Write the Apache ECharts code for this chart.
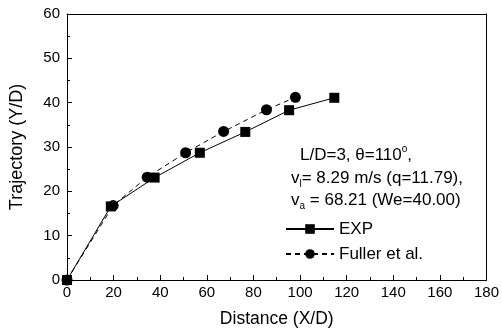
<!DOCTYPE html>
<html><head><meta charset="utf-8">
<script src="https://cdn.jsdelivr.net/npm/echarts@6/dist/echarts.min.js"></script>
<style>html,body{margin:0;padding:0;background:#fff}#c{width:502px;height:333px}</style>
</head><body><div id="c"></div>
<script>
const expX = [0, 18.8, 37.6, 57, 76.5, 95.3, 114.7];
const expY = [0, 16.6, 23.1, 28.7, 33.4, 38.3, 41.1];
const fulX = [0, 19.8, 34.4, 50.9, 67.2, 85.6, 98];
const fulY = [0, 16.8, 23.2, 28.7, 33.5, 38.4, 41.2];
const xTicks = [0, 20, 40, 60, 80, 100, 120, 140, 160, 180];
const yTicks = [0, 10, 20, 30, 40, 50, 60];

const font = 'Liberation Sans, Arial, sans-serif';
const chart = echarts.init(document.getElementById('c'));
const pair = (xs, ys) => xs.map((x, i) => [x, ys[i]]);
const axisCommon = {
  axisLine: {show: true, onZero: false, lineStyle: {color: '#000', width: 1}},
  axisTick: {show: true, inside: true, length: 5, lineStyle: {color: '#000'}},
  minorTick: {show: true, splitNumber: 2, length: 3, lineStyle: {color: '#000'}},
  splitLine: {show: false}
};
const legendText = {fontFamily: font, fontSize: 17, color: '#000', lineHeight: 18};
chart.setOption({
  animation: false,
  grid: {left: 65, right: 13, top: 14, bottom: 52, containLabel: false},
  xAxis: [
    Object.assign({type: 'value', min: 0, max: 180, interval: 20,
      name: 'Distance (X/D)', nameLocation: 'middle', nameGap: 30,
      nameTextStyle: {fontFamily: font, fontSize: 17.5, color: '#000'},
      axisLabel: {fontFamily: font, fontSize: 15, color: '#000', margin: 5,
        formatter: v => xTicks.includes(v) ? String(v) : ''}}, axisCommon),
    Object.assign({type: 'value', min: 0, max: 180, interval: 20, position: 'top',
      axisLabel: {show: false}}, axisCommon, {axisTick: {show: false}, minorTick: {show: false}})
  ],
  yAxis: [
    Object.assign({type: 'value', min: 0, max: 60, interval: 10,
      name: 'Trajectory (Y/D)', nameLocation: 'middle', nameGap: 41,
      nameTextStyle: {fontFamily: font, fontSize: 18, color: '#000'},
      axisLabel: {fontFamily: font, fontSize: 15, color: '#000', margin: 7,
        formatter: v => yTicks.includes(v) ? String(v) : ''}}, axisCommon),
    Object.assign({type: 'value', min: 0, max: 60, interval: 10, position: 'right',
      axisLabel: {show: false}}, axisCommon, {axisTick: {show: false}, minorTick: {show: false}})
  ],
  legend: [
    {orient: 'vertical', left: 285, top: 220, padding: 0, itemWidth: 48, itemHeight: 12,
      textStyle: legendText, data: ['EXP']},
    {orient: 'vertical', left: 285, top: 245, padding: 0, itemWidth: 48, itemHeight: 12,
      textStyle: legendText, data: ['Fuller et al.']}
  ],
  series: [
    {name: 'EXP', type: 'line', data: pair(expX, expY), symbol: 'rect', symbolSize: 10,
      itemStyle: {color: '#000'}, lineStyle: {color: '#000', width: 1}},
    {name: 'Fuller et al.', type: 'line', data: pair(fulX, fulY), symbol: 'circle', symbolSize: 11,
      itemStyle: {color: '#000'}, lineStyle: {color: '#000', width: 1, type: [5, 4]}}
  ],
  graphic: [
    {type: 'text', x: 300, y: 155, style: {text: '{n|L/D=3, \u03B8=110}{s|o}{n|,}',
      verticalAlign: 'middle', fill: '#000',
      rich: {n: {fontFamily: font, fontSize: 17, lineHeight: 22, verticalAlign: 'middle'},
             s: {fontFamily: font, fontSize: 10, verticalAlign: 'top'}}}},
    {type: 'text', x: 291, y: 178, style: {text: '{n|v}{sub|l}{n|= 8.29 m/s (q=11.79),}',
      verticalAlign: 'middle', fill: '#000',
      rich: {n: {fontFamily: font, fontSize: 17, lineHeight: 22, verticalAlign: 'middle'},
             sub: {fontFamily: font, fontSize: 10, verticalAlign: 'bottom'}}}},
    {type: 'text', x: 291, y: 200, style: {text: '{n|v}{sub|a}{n| = 68.21 (We=40.00)}',
      verticalAlign: 'middle', fill: '#000',
      rich: {n: {fontFamily: font, fontSize: 17, lineHeight: 22, verticalAlign: 'middle'},
             sub: {fontFamily: font, fontSize: 10, verticalAlign: 'bottom'}}}}
  ]
});
</script></body></html>
